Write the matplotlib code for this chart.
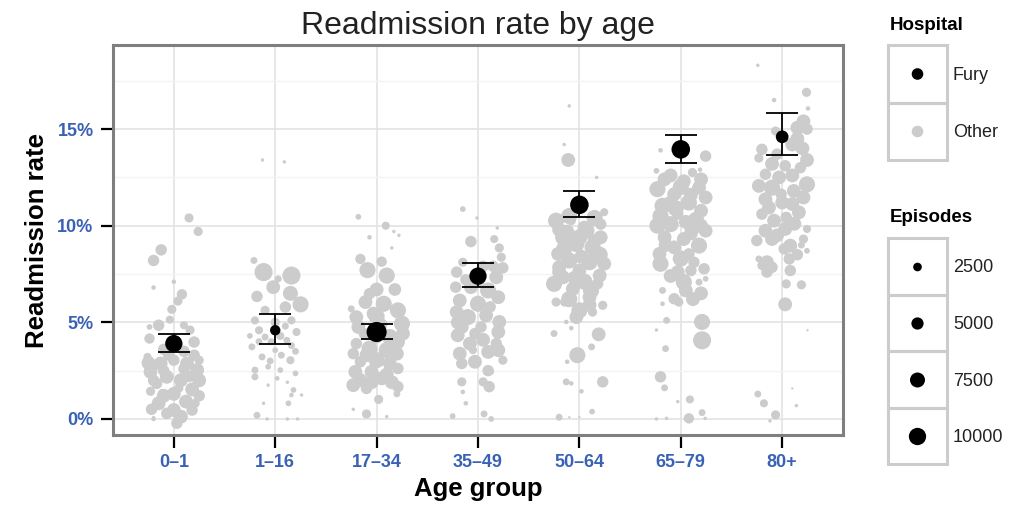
import matplotlib
matplotlib.use("Agg")
import matplotlib.pyplot as plt
from matplotlib.patches import Rectangle

plt.rcParams['font.family'] = ['Liberation Sans', 'DejaVu Sans']

# Age groups and Fury hospital values (readmission rate in %)
age_groups = ["0\u20131", "1\u201316", "17\u201334", "35\u201349", "50\u201364", "65\u201379", "80+"]
fury_rate = [3.9, 4.59, 4.5, 7.39, 11.08, 13.95, 14.6]
fury_low = [3.45, 3.87, 4.16, 6.82, 10.46, 13.25, 13.66]
fury_high = [4.38, 5.41, 4.9, 8.09, 11.8, 14.69, 15.84]
fury_episodes = [10000, 3600, 13500, 10000, 11500, 11500, 5400]

# Other hospitals: (jitter, rate %, episodes) per age group
other_0_1 = [(0.15, 10.4, 2800), (0.24, 9.7, 2800), (-0.125, 8.75, 4400), (-0.2, 8.2, 4400),
             (0.0, 7.1, 700), (-0.2, 6.8, 700), (0.08, 6.45, 3600), (0.04, 6.1, 2800),
             (-0.02, 5.67, 2800), (-0.04, 5.14, 2200), (-0.15, 4.85, 4400), (-0.24, 4.76, 1100),
             (0.1, 4.85, 2200), (0.16, 4.6, 2800), (-0.24, 4.16, 3600), (0.2, 3.98, 4400),
             (-0.26, 3.21, 2200), (-0.13, 2.87, 6400), (0.0, 3.04, 4400), (0.13, 2.87, 6400),
             (0.25, 3.04, 2800), (-0.23, 2.44, 6400), (0.23, 2.53, 6400), (-0.07, 2.18, 6400),
             (0.07, 2.01, 6400), (-0.17, 1.84, 4400), (0.18, 1.53, 6400), (-0.23, 1.43, 2800),
             (-0.12, 1.4, 1100), (0.1, 2.6, 4400), (-0.15, 0.81, 6400), (0.0, 0.46, 6400),
             (0.07, 0.12, 6400), (0.18, 0.46, 4400), (-0.07, 0.29, 4400), (0.21, 0.81, 2800),
             (0.12, 1.0, 1100), (-0.2, 0.0, 700), (0.03, -0.22, 4400), (-0.2, 0.07, 400),
             (-0.05, 3.3, 4400), (0.2, 3.3, 4400), (-0.1, 2.5, 4400), (0.15, 2.2, 4400),
             (-0.2, 2.0, 4400), (0.05, 1.6, 2800), (-0.25, 2.9, 6400), (0.25, 2.0, 6400),
             (-0.1, 1.2, 6400), (0.12, 0.9, 6400), (-0.22, 0.5, 4400), (0.25, 1.2, 4400),
             (0.0, 1.3, 6400), (0.1, 3.5, 4400), (-0.1, 3.6, 4400)]
other_1_16 = [(-0.125, 13.4, 400), (0.09, 13.3, 400), (-0.21, 8.2, 1600), (-0.115, 7.6, 11000),
              (0.16, 7.42, 11000), (0.03, 7.25, 1600), (-0.02, 6.82, 6400), (0.15, 6.5, 7500),
              (-0.18, 6.34, 4400), (0.25, 5.93, 8700), (0.1, 5.79, 4400), (-0.1, 5.62, 2800),
              (-0.2, 5.1, 2200), (0.16, 5.1, 2200), (-0.16, 4.59, 2200), (0.21, 4.5, 2200),
              (-0.1, 4.24, 1600), (0.115, 4.07, 1600), (-0.23, 3.73, 1600), (0.0, 3.56, 1100),
              (-0.13, 3.21, 1600), (0.15, 3.04, 2200), (-0.2, 2.53, 1600), (-0.07, 2.7, 1100),
              (0.05, 2.53, 1100), (0.2, 2.36, 1100), (-0.2, 2.18, 1600), (0.02, 2.1, 700),
              (0.12, 1.9, 400), (-0.07, 1.75, 400), (0.18, 1.5, 1100), (0.16, 1.24, 700),
              (0.26, 1.24, 400), (0.13, 0.81, 1100), (-0.115, 0.81, 400), (-0.18, 0.19, 1600),
              (-0.08, 0.0, 400), (0.12, 0.0, 400), (0.22, 0.0, 400), (-0.25, 4.3, 1100),
              (0.1, 4.8, 1600), (-0.04, 4.0, 1600), (0.06, 3.3, 1600), (-0.16, 4.0, 1600),
              (0.16, 3.8, 1600), (0.0, 5.0, 2800), (0.05, 4.3, 2200), (-0.05, 3.0, 1600),
              (0.2, 3.5, 1600)]
other_17_34 = [(-0.18, 10.46, 1100), (0.09, 10.0, 2200), (0.17, 9.7, 400), (0.22, 9.5, 400),
               (-0.07, 9.4, 700), (0.15, 8.85, 400), (-0.16, 8.28, 3600), (-0.09, 7.7, 8700),
               (0.05, 8.14, 3600), (0.1, 7.42, 8700), (0.18, 6.7, 5400), (-0.07, 6.48, 4400),
               (-0.25, 5.7, 1600), (-0.11, 6.05, 6400), (0.07, 5.96, 8700), (0.21, 5.62, 8700),
               (-0.2, 5.27, 6400), (-0.03, 5.45, 6400), (0.25, 4.93, 8700), (-0.18, 4.76, 6400),
               (0.13, 4.24, 8700), (0.26, 4.42, 6400), (-0.2, 3.9, 4400), (-0.07, 3.64, 8700),
               (0.1, 3.56, 8700), (-0.23, 3.38, 4400), (0.2, 3.38, 6400), (-0.16, 2.96, 4400),
               (0.0, 3.04, 8700), (0.13, 2.87, 6400), (-0.21, 2.44, 6400), (-0.05, 2.44, 6400),
               (0.21, 2.61, 4400), (-0.16, 2.01, 6400), (0.05, 2.1, 6400), (-0.23, 1.75, 6400),
               (-0.1, 1.58, 4400), (0.21, 1.67, 4400), (0.02, 1.01, 2800), (0.2, 1.3, 1600),
               (-0.23, 0.5, 400), (-0.1, 0.26, 2800), (0.1, 0.12, 400), (0.05, 4.9, 4400),
               (-0.12, 4.4, 4400), (0.0, 4.2, 4400), (0.0, 5.3, 8700), (0.2, 4.0, 8700),
               (-0.1, 3.3, 6400), (0.1, 2.3, 6400), (-0.05, 1.9, 6400), (0.15, 1.9, 6400),
               (0.0, 6.7, 6400)]
other_35_49 = [(-0.15, 10.86, 1100), (-0.01, 10.4, 400), (0.19, 9.88, 400), (-0.07, 9.18, 4400),
               (0.16, 9.31, 2200), (0.21, 8.85, 2800), (0.23, 8.37, 2800), (-0.15, 8.11, 2800),
               (0.245, 7.82, 4400), (-0.21, 7.6, 4400), (0.18, 7.33, 6400), (-0.22, 6.82, 4400),
               (-0.07, 6.82, 6400), (0.1, 6.65, 8700), (0.2, 6.3, 6400), (-0.18, 6.13, 6400),
               (0.0, 5.96, 8700), (-0.21, 5.53, 6400), (-0.1, 5.27, 8700), (0.08, 5.36, 6400),
               (0.21, 5.02, 6400), (-0.16, 4.76, 6400), (0.03, 4.76, 4400), (-0.2, 4.33, 6400),
               (-0.03, 4.42, 4400), (0.18, 3.9, 4400), (0.2, 3.56, 6400), (-0.18, 3.38, 6400),
               (-0.05, 3.56, 2200), (0.1, 3.47, 6400), (-0.16, 2.87, 4400), (-0.03, 2.96, 6400),
               (0.245, 3.04, 2800), (0.13, 2.44, 1100), (-0.16, 1.92, 2800), (0.05, 1.92, 2800),
               (0.11, 1.67, 4400), (-0.15, 1.4, 700), (-0.12, 0.81, 700), (-0.25, 0.15, 1100),
               (0.06, 0.26, 1600), (0.13, 0.0, 1100), (0.05, 7.9, 4400), (-0.12, 7.2, 4400),
               (0.12, 5.8, 4400), (0.05, 4.1, 6400), (-0.08, 3.9, 6400), (0.2, 4.5, 6400),
               (0.0, 7.2, 6400), (0.15, 7.9, 4400), (-0.2, 5.0, 6400), (0.1, 2.5, 4400)]
other_50_64 = [(-0.1, 16.2, 400), (-0.15, 14.2, 400), (-0.11, 13.4, 6400), (0.17, 12.5, 400),
               (0.245, 10.7, 2200), (-0.23, 10.26, 8700), (-0.08, 10.26, 2800), (0.21, 10.08, 4400),
               (0.07, 9.74, 8700), (-0.16, 9.4, 8700), (0.21, 9.4, 6400), (-0.03, 9.05, 8700),
               (0.13, 8.88, 8700), (-0.21, 8.54, 6400), (-0.1, 8.2, 8700), (0.1, 8.11, 8700),
               (0.245, 8.03, 6400), (-0.2, 7.85, 6400), (0.0, 7.68, 6400), (0.2, 7.42, 6400),
               (-0.16, 7.33, 6400), (-0.25, 6.99, 8700), (-0.065, 6.73, 6400), (0.115, 6.65, 8700),
               (0.1, 6.3, 6400), (-0.23, 6.05, 2800), (-0.145, 6.05, 2800), (0.23, 5.88, 2800),
               (0.0, 5.62, 8700), (-0.03, 5.27, 6400), (0.13, 5.53, 2800), (-0.13, 5.02, 700),
               (-0.25, 4.42, 1600), (-0.08, 4.7, 700), (0.19, 4.38, 6400), (0.12, 3.73, 1600),
               (-0.02, 3.3, 8700), (-0.12, 2.96, 700), (-0.13, 1.92, 1600), (-0.08, 1.84, 700),
               (0.23, 1.92, 4400), (0.02, 1.43, 700), (-0.2, 0.09, 1600), (-0.1, 0.09, 180),
               (0.0, 0.09, 180), (0.125, 0.38, 1100), (0.05, 9.9, 6400), (-0.12, 9.7, 6400),
               (0.15, 9.2, 6400), (0.02, 8.4, 6400), (-0.05, 7.3, 6400), (0.18, 7.0, 4400),
               (-0.1, 10.5, 8700), (0.15, 10.4, 8700), (0.0, 9.4, 8700), (-0.2, 9.8, 6400),
               (0.2, 8.5, 8700), (-0.15, 8.8, 8700), (0.05, 7.1, 8700), (-0.1, 6.2, 8700),
               (0.1, 5.9, 6400), (-0.2, 7.6, 6400)]
other_65_79 = [(-0.2, 13.9, 700), (0.245, 13.6, 4400), (0.115, 12.75, 2800), (-0.24, 12.84, 1100),
               (0.19, 12.9, 700), (-0.16, 12.4, 6400), (0.03, 12.3, 6400), (0.18, 11.97, 6400),
               (-0.23, 11.89, 8700), (-0.065, 11.63, 6400), (0.245, 11.46, 6400), (0.08, 11.2, 8700),
               (-0.18, 11.03, 8700), (0.2, 10.77, 6400), (-0.03, 10.6, 4400), (-0.23, 10.0, 8700),
               (-0.1, 10.08, 8700), (0.115, 9.91, 8700), (0.245, 9.74, 6400), (-0.16, 9.4, 6400),
               (0.03, 9.31, 6400), (0.18, 8.97, 8700), (-0.065, 8.88, 6400), (-0.21, 8.54, 6400),
               (0.08, 8.54, 4400), (-0.2, 8.03, 8700), (0.13, 8.11, 4400), (0.23, 7.77, 4400),
               (-0.03, 7.6, 6400), (0.1, 7.68, 4400), (0.03, 7.08, 8700), (0.18, 7.08, 1600),
               (0.245, 7.25, 1100), (0.2, 6.5, 6400), (-0.18, 6.65, 1600), (-0.065, 6.22, 4400),
               (0.05, 6.65, 6400), (-0.02, 6.05, 2800), (-0.18, 5.96, 700), (-0.14, 5.1, 1600),
               (0.21, 5.02, 8700), (0.21, 4.07, 11000), (-0.24, 4.6, 400), (-0.15, 3.64, 1600),
               (-0.2, 2.18, 4400), (-0.16, 1.61, 1600), (-0.03, 0.9, 400), (0.09, 1.01, 2200),
               (0.21, 0.33, 1600), (0.08, 0.03, 3600), (-0.24, 0.0, 400), (-0.14, 0.03, 400),
               (0.24, 0.03, 400), (0.1, 11.6, 6400), (-0.1, 11.2, 6400), (0.05, 10.2, 6400),
               (-0.15, 9.0, 6400), (0.1, 9.6, 6400), (0.0, 12.0, 8700), (-0.1, 12.6, 6400),
               (0.2, 12.4, 6400), (-0.05, 10.9, 8700), (0.15, 10.3, 8700), (-0.2, 10.5, 8700),
               (0.0, 8.3, 8700), (-0.1, 7.4, 6400), (0.12, 6.2, 6400), (0.2, 10.0, 6400)]
other_80_plus = [(-0.24, 18.3, 400), (0.24, 16.9, 2800), (-0.08, 16.5, 700), (0.255, 16.07, 700),
                 (0.21, 15.4, 6400), (0.15, 15.07, 6400), (-0.065, 14.9, 2800), (0.245, 15.0, 4400),
                 (0.15, 14.5, 6400), (-0.2, 13.95, 4400), (-0.23, 13.5, 2800), (0.245, 13.4, 6400),
                 (-0.1, 13.2, 6400), (0.03, 13.1, 4400), (0.18, 13.0, 4400), (-0.165, 12.66, 4400),
                 (-0.03, 12.5, 6400), (0.245, 12.14, 8700), (-0.23, 12.06, 6400), (-0.1, 11.97, 8700),
                 (0.115, 11.8, 6400), (-0.01, 11.63, 4400), (0.21, 11.46, 6400), (-0.165, 11.37, 6400),
                 (0.1, 11.12, 6400), (-0.13, 10.94, 6400), (0.165, 10.69, 6400), (-0.2, 10.6, 4400),
                 (-0.08, 10.26, 6400), (0.04, 10.43, 4400), (-0.165, 9.74, 6400), (0.03, 9.83, 6400),
                 (0.245, 9.83, 2200), (-0.25, 9.23, 4400), (-0.1, 9.31, 6400), (0.08, 8.97, 6400),
                 (0.21, 9.31, 2800), (0.19, 9.0, 1600), (0.02, 8.8, 4400), (0.245, 8.7, 1100),
                 (-0.23, 8.28, 1600), (-0.15, 8.11, 6400), (-0.2, 7.94, 2800), (-0.1, 7.85, 4400),
                 (0.07, 8.28, 4400), (0.08, 7.68, 4400), (0.04, 6.99, 2800), (0.19, 6.94, 2800),
                 (0.03, 5.93, 6400), (0.25, 4.59, 180), (0.1, 1.58, 180), (-0.24, 1.29, 1600),
                 (-0.18, 0.81, 2200), (0.14, 0.69, 400), (-0.065, 0.21, 2800), (-0.12, -0.1, 400),
                 (0.1, 14.2, 6400), (0.2, 14.0, 6400), (-0.05, 13.7, 4400), (0.1, 12.6, 6400),
                 (0.0, 11.2, 6400), (0.12, 10.1, 6400), (-0.05, 9.5, 6400), (0.15, 8.5, 4400),
                 (-0.15, 7.6, 4400)]

other_groups = [other_0_1, other_1_16, other_17_34, other_35_49, other_50_64, other_65_79, other_80_plus]

legend_episodes = [2500, 5000, 7500, 10000]
y_ticks = [0, 5, 10, 15]


def marker_size(ep):
    # point area proportional to episodes
    return 0.0155 * ep


grey = '#cccccc'
blue = '#3a62b4'

fig = plt.figure(figsize=(10.11, 5.12), dpi=100)
ax = fig.add_axes([113 / 1011, 1 - 435 / 512, 730 / 1011, 390 / 512])

# other hospitals
for i, pts in enumerate(other_groups):
    xs = [i + p[0] for p in pts]
    ys = [p[1] for p in pts]
    ss = [marker_size(p[2]) for p in pts]
    ax.scatter(xs, ys, s=ss, color=grey, edgecolors='none', zorder=2)

# Fury with confidence intervals
xpos = list(range(len(age_groups)))
yerr = [[r - lo for r, lo in zip(fury_rate, fury_low)], [hi - r for r, hi in zip(fury_rate, fury_high)]]
ax.errorbar(xpos, fury_rate, yerr=yerr, fmt='none', ecolor='black', elinewidth=1.3,
            capsize=11.5, capthick=1.3, zorder=3)
ax.scatter(xpos, fury_rate, s=[marker_size(e) for e in fury_episodes], color='black',
           edgecolors='none', zorder=4)

ax.set_xlim(-0.6, 6.6)
ax.set_ylim(-0.83, 19.35)
ax.set_xticks(xpos)
ax.set_xticklabels(age_groups)
ax.set_yticks(y_ticks)
ax.set_yticklabels([f"{v}%" for v in y_ticks])
ax.set_yticks([2.5, 7.5, 12.5, 17.5], minor=True)
ax.grid(which='major', color='#e3e3e3', linewidth=1.2, zorder=0)
ax.grid(which='minor', axis='y', color='#f4f4f4', linewidth=1.0, zorder=0)
ax.set_axisbelow(True)
ax.tick_params(axis='both', which='major', direction='out', length=9, width=1.6,
               color='black', pad=5, labelsize=13, labelcolor=blue)
ax.tick_params(axis='y', which='minor', length=0)
for lab in ax.get_xticklabels() + ax.get_yticklabels():
    lab.set_fontweight('bold')
for sp in ax.spines.values():
    sp.set_color('#7f7f7f')
    sp.set_linewidth(2.2)

ax.set_title("Readmission rate by age", fontsize=23, color='#222222', pad=8)
ax.set_xlabel("Age group", fontsize=18.5, fontweight='bold', labelpad=4)
ax.set_ylabel("Readmission rate", fontsize=18.5, fontweight='bold', labelpad=6)

# legend drawn in pixel space
lg = fig.add_axes([0, 0, 1, 1], zorder=5)
lg.set_xlim(0, 1011)
lg.set_ylim(512, 0)
lg.axis('off')
box_x, box_w = 888, 59
key_x = box_x + box_w / 2

lg.text(890, 25, "Hospital", fontsize=13.5, fontweight='bold', va='center', ha='left')
hosp_labels = ["Fury", "Other"]
hosp_colors = ['black', grey]
for k, (lab, col) in enumerate(zip(hosp_labels, hosp_colors)):
    top = 45 + k * 57.5
    lg.add_patch(Rectangle((box_x, top), box_w, 57.5, fill=False, edgecolor='#cccccc', linewidth=2.2))
    lg.scatter([key_x], [top + 29], s=marker_size(4500), color=col, edgecolors='none')
    lg.text(953, top + 30, lab, fontsize=13, va='center', ha='left', color='#222222')

lg.text(890, 217, "Episodes", fontsize=13.5, fontweight='bold', va='center', ha='left')
for k, ep in enumerate(legend_episodes):
    top = 238 + k * 56.5
    lg.add_patch(Rectangle((box_x, top), box_w, 56.5, fill=False, edgecolor='#cccccc', linewidth=2.2))
    lg.scatter([key_x], [top + 29], s=marker_size(ep), color='black', edgecolors='none')
    lg.text(953, top + 30, str(ep), fontsize=13, va='center', ha='left', color='#222222')

plt.savefig("out.png", dpi=100)
